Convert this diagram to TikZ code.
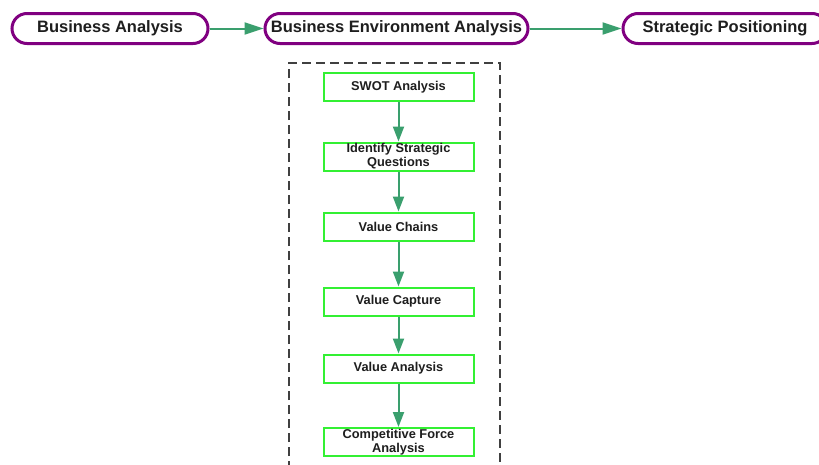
\documentclass[tikz,border=0pt]{standalone}
\usepackage{fontspec}
\setmainfont{Liberation Sans}
\usetikzlibrary{arrows.meta}
\definecolor{procpurple}{HTML}{800080}
\definecolor{stepgreen}{HTML}{33F033}
\definecolor{linkgreen}{HTML}{3A9F6E}
\definecolor{framegray}{HTML}{404040}
\definecolor{ink}{HTML}{1E1E1E}
\tikzset{
  phase/.style={draw=procpurple, line width=3pt, rounded corners=15pt, fill=white,
    minimum height=30pt, inner sep=0pt, text=ink,
    font=\fontsize{16.5}{18}\selectfont\bfseries},
  stepbox/.style={draw=stepgreen, line width=2pt, fill=white, minimum width=150pt,
    minimum height=28pt, inner sep=0pt, align=center, text=ink,
    font=\fontsize{12.8}{14}\selectfont\bfseries},
  link/.style={draw=linkgreen, line width=2pt,
    -{Triangle[length=15pt,width=11pt,fill=linkgreen]}},
  hlink/.style={link, -{Triangle[length=19pt,width=12pt,fill=linkgreen]}},
}
\begin{document}
\begin{tikzpicture}[x=1pt,y=-1pt]
  \useasboundingbox (0,0) rectangle (819,464);
  \clip (0,0) rectangle (819,464);
  % dashed frame around the environment analysis steps
  \draw[framegray, line width=1.5pt, dash pattern=on 9pt off 5pt] (289,470) |- (500,63) -- (500,470);
  % main phases
  \node[phase, minimum width=196pt] (ba) at (110,28.5) {Business Analysis};
  \node[phase, minimum width=263pt] (bea) at (396.5,28.5) {Business Environment Analysis};
  \node[phase, minimum width=204pt] (sp) at (725,28.5) {Strategic Positioning};
  \draw[hlink] (ba) -- (bea);
  \draw[hlink] (bea) -- (sp);
  % analysis steps
  \node[stepbox] (swot) at (398.5,87) {SWOT Analysis};
  \node[stepbox] (isq) at (398.5,156.5) {Identify Strategic\\Questions};
  \node[stepbox] (vch) at (398.5,226.5) {Value Chains};
  \node[stepbox] (vca) at (398.5,301.5) {Value Capture};
  \node[stepbox] (van) at (398.5,368.5) {Value Analysis};
  \node[stepbox] (cfa) at (398.5,442) {Competitive Force\\Analysis};
  \draw[link] (swot) -- (isq);
  \draw[link] (isq) -- (vch);
  \draw[link] (vch) -- (vca);
  \draw[link] (vca) -- (van);
  \draw[link] (van) -- (cfa);
\end{tikzpicture}
\end{document}
